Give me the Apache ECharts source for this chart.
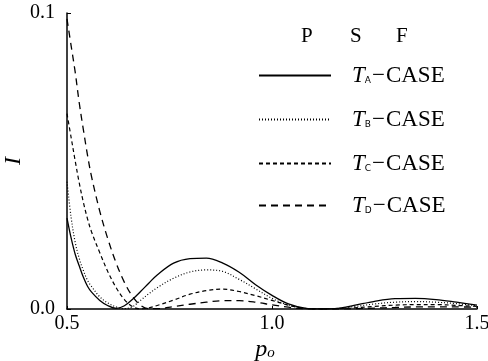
<!DOCTYPE html>
<html>
<head>
<meta charset="utf-8">
<script src="https://cdn.jsdelivr.net/npm/echarts@6/dist/echarts.min.js"></script>
<style>
html,body{margin:0;padding:0;background:#fff;}
#c{width:488px;height:361px;}
</style>
</head>
<body>
<div id="c"></div>
<script>
var xs = [0.50,0.51,0.52,0.53,0.54,0.55,0.56,0.58,0.60,0.62,0.64,0.66,0.68,0.70,0.72,0.76,0.80,0.84,0.88,0.92,0.96,1.00,1.04,1.08,1.12,1.16,1.20,1.25,1.30,1.35,1.40,1.45,1.50];
var caseA = [0.0307,0.0240,0.0185,0.0145,0.0107,0.0077,0.0057,0.0029,0.0011,0.0002,0.0011,0.0033,0.0060,0.0088,0.0115,0.0155,0.0170,0.0172,0.0155,0.0124,0.0082,0.0046,0.0017,0.0003,0.0000,0.0002,0.0012,0.0026,0.0035,0.0036,0.0032,0.0023,0.0013];
var caseB = [0.0430,0.0310,0.0225,0.0170,0.0130,0.0097,0.0076,0.0041,0.0020,0.0007,0.0001,0.0008,0.0030,0.0052,0.0072,0.0104,0.0125,0.0132,0.0127,0.0100,0.0068,0.0036,0.0013,0.0002,0.0000,0.0002,0.0008,0.0017,0.0023,0.0025,0.0023,0.0018,0.0011];
var caseC = [0.0660,0.0580,0.0500,0.0425,0.0360,0.0305,0.0260,0.0190,0.0125,0.0072,0.0032,0.0008,0.0000,0.0004,0.0012,0.0030,0.0050,0.0062,0.0067,0.0059,0.0045,0.0029,0.0013,0.0002,0.0000,0.0001,0.0004,0.0009,0.0013,0.0015,0.0015,0.0012,0.0009];
var caseD = [0.0980,0.0890,0.0800,0.0695,0.0605,0.0520,0.0446,0.0330,0.0235,0.0155,0.0090,0.0042,0.0012,0.0001,0.0001,0.0008,0.0016,0.0023,0.0028,0.0028,0.0023,0.0014,0.0006,0.0001,0.0000,0.0000,0.0001,0.0003,0.0005,0.0007,0.0007,0.0007,0.0006];
var seriesNames = ['A','B','C','D'];
var seriesValues = [caseA, caseB, caseC, caseD];
var xTicks = [0.5, 1.0, 1.5];
var yTicks = [0.0, 0.1];
var header = ['P','S','F'];

var serif = 'Liberation Serif, DejaVu Serif, serif';
var dashTypes = ['solid', [1,2], [4,3], [7,5]];
var widths = [1.3, 1.2, 1.2, 1.3];
var legendTops = [64, 108, 152, 194];

function pairs(vals){ return xs.map(function(x,i){ return [x, vals[i]]; }); }

var series = seriesNames.map(function(n,i){
  return {
    name: n, type: 'line', data: pairs(seriesValues[i]),
    smooth: 0.35, symbol: 'none', showSymbol: false, clip: true,
    lineStyle: {color:'#000', width: widths[i], type: dashTypes[i]},
    itemStyle: {color:'#000'}
  };
});

var rich = {
  t: {fontFamily: serif, fontStyle: 'italic', fontSize: 23, color:'#000'},
  s: {fontFamily: 'DejaVu Sans, sans-serif', fontSize: 9, color:'#000', padding:[11,1,0,0]},
  m: {fontFamily: serif, fontSize: 23, color:'#000', padding:[0,1,0,0]},
  c: {fontFamily: serif, fontSize: 23, color:'#000'}
};

var legends = seriesNames.map(function(n,i){
  return {
    data: [n], orient:'vertical', left: 258, top: legendTops[i],
    itemWidth: 72, itemHeight: 14, itemGap: 0, padding: 0,
    selectedMode: false,
    itemStyle: {opacity: 0},
    formatter: function(name){ return '{t|T}{s|' + name + '}{m|\u2212}{c|CASE}'; },
    textStyle: {rich: rich, padding:[0,0,0,16]}
  };
});

var chart = echarts.init(document.getElementById('c'), null, {renderer:'canvas'});
chart.setOption({
  animation: false,
  backgroundColor: '#fff',
  grid: {left: 67, right: 11, top: 13, bottom: 52, containLabel: false, outerBoundsMode: 'none'},
  xAxis: {
    type: 'value', min: 0.5, max: 1.5, interval: 0.5,
    name: '{p|p}{o|o}', nameLocation: 'middle', nameGap: 29, nameMoveOverlap: false,
    nameTextStyle: {padding:[0,14,0,0], rich: {p:{fontFamily: serif, fontStyle:'italic', fontSize: 24, color:'#000'}, o:{fontFamily: serif, fontStyle:'italic', fontSize: 15, color:'#000', padding:[7,0,0,0]}}},
    axisLine: {lineStyle:{color:'#000', width:1.5}},
    axisTick: {inside: true, length: 3, lineStyle:{color:'#000'}},
    splitLine: {show:false},
    axisLabel: {color:'#000', fontFamily: serif, fontSize: 20, margin: 5,
      formatter: function(v){ return v.toFixed(1); }}
  },
  yAxis: {
    type: 'value', min: 0, max: 0.1, interval: 0.1,
    name: 'I', nameLocation: 'middle', nameGap: 41, nameRotate: 90, nameMoveOverlap: false,
    nameTextStyle: {fontFamily: serif, fontStyle:'italic', fontSize: 24, color:'#000'},
    axisLine: {show:true, lineStyle:{color:'#000', width:1.5}},
    axisTick: {show:true, inside: true, length: 4, lineStyle:{color:'#000'}},
    splitLine: {show:false},
    axisLabel: {color:'#000', fontFamily: serif, fontSize: 20, margin: 12,
      formatter: function(v){ return v.toFixed(1); }}
  },
  legend: legends,
  graphic: header.map(function(h,i){
    return {type:'text', left: [301,350,396][i], top: 26,
      style:{text:h, font:'21px ' + serif, fill:'#000'}};
  }),
  series: series
});
</script>
</body>
</html>
